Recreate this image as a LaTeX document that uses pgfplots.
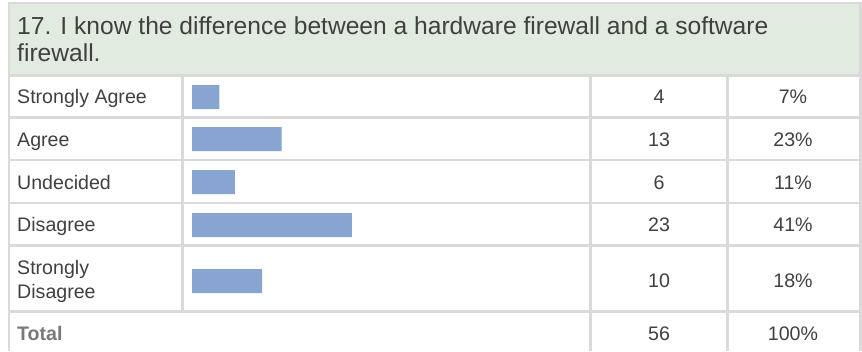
\documentclass[border=0pt]{standalone}
\usepackage{pgfplots}
\pgfplotsset{compat=1.18}
\usepackage{pgfplotstable}
\usepackage{fontspec}
\setmainfont{Liberation Sans}
\definecolor{grid}{RGB}{218,218,218}
\definecolor{hdr}{RGB}{226,235,223}
\definecolor{barc}{RGB}{136,164,208}
\definecolor{txt}{RGB}{64,64,64}
\definecolor{tot}{RGB}{120,120,120}
\pgfplotstableread{
row pct count pctlab ymid base
1 7 4 7\% 97 103
2 23 13 23\% 139 146
3 11 6 11\% 182 189
4 41 23 41\% 225 231
5 18 10 18\% 281 287
}\datatable
\newcommand{\bodyfont}{\fontsize{19.6}{22}\selectfont}
\newcommand{\titlefont}{\fontsize{24.6}{27}\selectfont}
\begin{document}
\begin{tikzpicture}
\begin{axis}[
  at={(0pt,0pt)}, anchor=south west,
  scale only axis, width=862pt, height=351pt,
  xmin=0, xmax=862, ymin=0, ymax=351, y dir=reverse,
  hide axis, clip=true,
]
% header
\fill[hdr] (axis cs:9,3) rectangle (axis cs:860.5,75);
% grid lines
\draw[line width=2.8pt, color=grid] (axis cs:7.6,3) -- (axis cs:862,3);
\draw[line width=2.8pt, color=grid] (axis cs:9,1.6) -- (axis cs:9,351);
\draw[line width=2.8pt, color=grid] (axis cs:860.5,1.6) -- (axis cs:860.5,351);
\draw[line width=2.8pt, color=grid] (axis cs:9,75.3) -- (axis cs:860.5,75.3);
\draw[line width=2.8pt, color=grid] (axis cs:9,117.5) -- (axis cs:860.5,117.5);
\draw[line width=2.8pt, color=grid] (axis cs:9,160) -- (axis cs:860.5,160);
\draw[line width=2.8pt, color=grid] (axis cs:9,203) -- (axis cs:860.5,203);
\draw[line width=2.8pt, color=grid] (axis cs:9,245.7) -- (axis cs:860.5,245.7);
\draw[line width=2.8pt, color=grid] (axis cs:9,311.8) -- (axis cs:860.5,311.8);
\draw[line width=2.8pt, color=grid] (axis cs:182.7,75.3) -- (axis cs:182.7,311.8);
\draw[line width=2.8pt, color=grid] (axis cs:590.8,75.3) -- (axis cs:590.8,351);
\draw[line width=2.8pt, color=grid] (axis cs:727.2,75.3) -- (axis cs:727.2,351);
% title
\node[anchor=base west, text=txt, font=\titlefont, inner sep=0pt] at (axis cs:17,34) {17. I know the difference between a hardware firewall and a software};
\node[anchor=base west, text=txt, font=\titlefont, inner sep=0pt] at (axis cs:17,61) {firewall.};
% row labels
\node[anchor=base west, text=txt, font=\bodyfont, inner sep=0pt] at (axis cs:17,103) {Strongly Agree};
\node[anchor=base west, text=txt, font=\bodyfont, inner sep=0pt] at (axis cs:17,146) {Agree};
\node[anchor=base west, text=txt, font=\bodyfont, inner sep=0pt] at (axis cs:17,189) {Undecided};
\node[anchor=base west, text=txt, font=\bodyfont, inner sep=0pt] at (axis cs:17,231) {Disagree};
\node[anchor=base west, text=txt, font=\bodyfont, inner sep=0pt] at (axis cs:17,274) {Strongly};
\node[anchor=base west, text=txt, font=\bodyfont, inner sep=0pt] at (axis cs:17,298) {Disagree};
\node[anchor=base west, text=tot, font=\bodyfont\bfseries, inner sep=0pt] at (axis cs:17,340) {Total};
% counts and percents from data
\addplot[draw=none, mark=none, nodes near coords, point meta=explicit symbolic,
  nodes near coords style={anchor=base, inner sep=0pt, text=txt, font=\bodyfont}]
  table[x expr=659, y=base, meta=count] {\datatable};
\addplot[draw=none, mark=none, nodes near coords, point meta=explicit symbolic,
  nodes near coords style={anchor=base, inner sep=0pt, text=txt, font=\bodyfont}]
  table[x expr=793, y=base, meta=pctlab] {\datatable};
\addplot[draw=none, mark=none, nodes near coords, point meta=explicit symbolic,
  nodes near coords style={anchor=base, inner sep=0pt, text=txt, font=\bodyfont}]
  coordinates {(659,340) [56] (793,340) [100\%]};
\end{axis}
\begin{axis}[
  at={(192pt,0pt)}, anchor=south west,
  scale only axis, width=390pt, height=351pt,
  xmin=0, xmax=100, ymin=0, ymax=351, y dir=reverse,
  hide axis, xbar, bar width=24,
]
\addplot[draw=none, fill=barc] table[x=pct, y=ymid] {\datatable};
\end{axis}
\pgfresetboundingbox
\path[use as bounding box] (0pt,0pt) rectangle (862pt,351pt);
\end{tikzpicture}
\end{document}
